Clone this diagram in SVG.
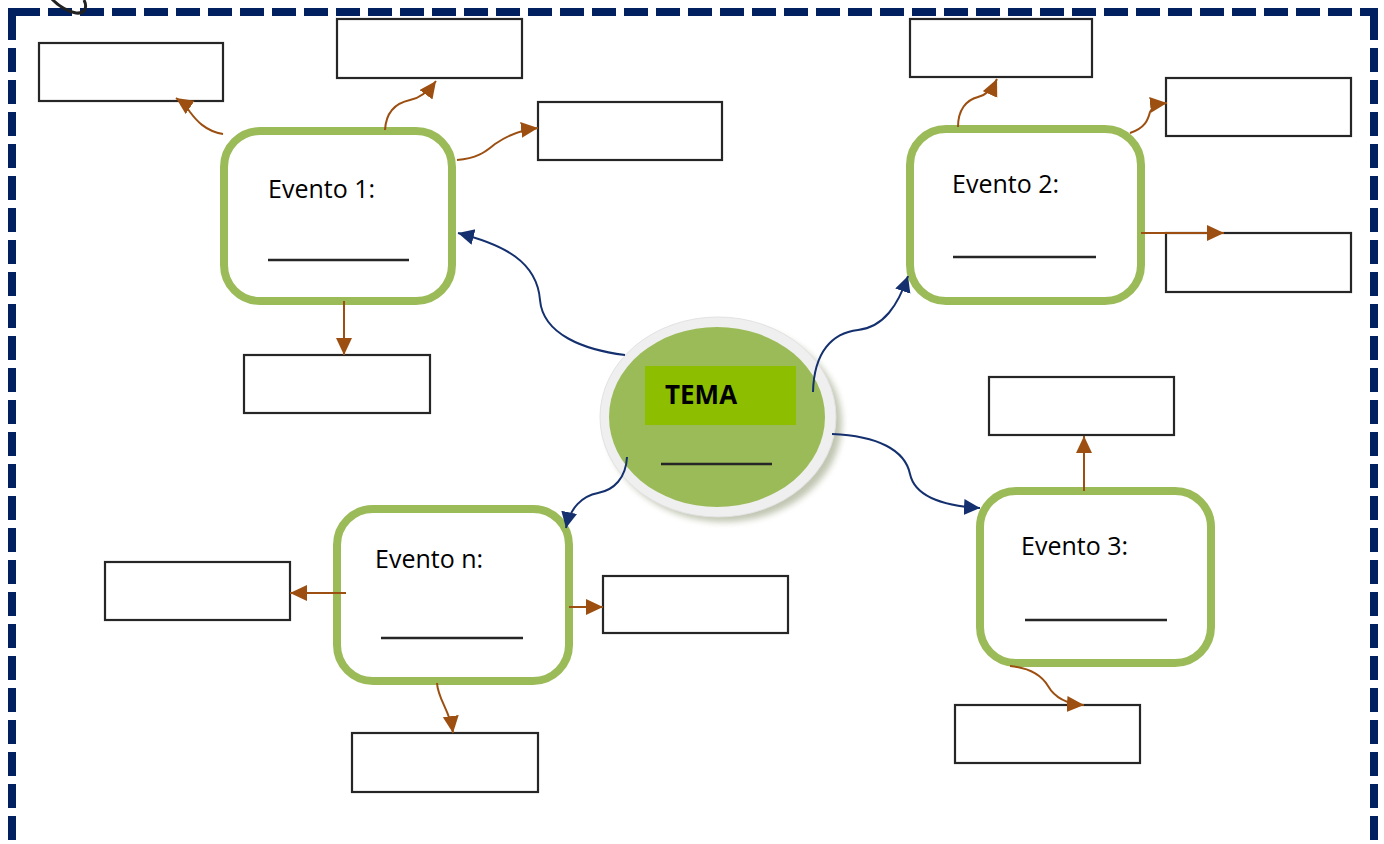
<svg xmlns="http://www.w3.org/2000/svg" width="1384" height="844" viewBox="0 0 1384 844">
  <style>
    .frame { stroke: #002060; stroke-width: 8; fill: none; stroke-dasharray: 24 8; }
    .corner { fill: #002060; }
    .box { fill: #ffffff; stroke: #262626; stroke-width: 2.2; }
    .event { fill: #ffffff; stroke: #9BBB59; stroke-width: 8; }
    .label { font-family: "Open Sans", "Liberation Sans", sans-serif; font-size: 25px; fill: #000000; }
    .blank { stroke: #262626; stroke-width: 2.5; }
    .brown { fill: none; stroke: #9C4F10; stroke-width: 2; marker-end: url(#headBrown); }
    .blue { fill: none; stroke: #14306E; stroke-width: 2; marker-end: url(#headBlue); }
  </style>
  <defs>
    <marker id="headBrown" markerUnits="userSpaceOnUse" markerWidth="20" markerHeight="18" refX="17" refY="8" orient="auto">
      <path d="M0,0 L17,8 L0,16 Z" fill="#9C4F10"/>
    </marker>
    <marker id="headBlue" markerUnits="userSpaceOnUse" markerWidth="20" markerHeight="18" refX="16" refY="8" orient="auto">
      <path d="M0,0 L16,8 L0,16 Z" fill="#14306E"/>
    </marker>
    <filter id="soft" x="-20%" y="-20%" width="140%" height="140%">
      <feGaussianBlur stdDeviation="3"/>
    </filter>
  </defs>

  <rect width="1384" height="844" fill="#ffffff"/>

  <!-- dashed page frame, open at the bottom -->
  <g id="frame">
    <path class="frame" d="M16,12 H1378"/>
    <path class="frame" d="M12,16 V850"/>
    <path class="frame" d="M1374,16 V850"/>
    <rect class="corner" x="8" y="8" width="8" height="8"/>
    <rect class="corner" x="1370" y="8" width="8" height="8"/>
    <path d="M50,-3 C58,6 66,11 76,13 C84,14 88,8 84,0" fill="none" stroke="#222" stroke-width="3"/>
  </g>

  <!-- blank answer boxes -->
  <g id="box1"><rect class="box" x="39" y="43" width="184" height="58"/></g>
  <g id="box2"><rect class="box" x="337" y="19" width="185" height="59"/></g>
  <g id="box3"><rect class="box" x="538" y="102" width="184" height="58"/></g>
  <g id="box4"><rect class="box" x="910" y="19" width="182" height="58"/></g>
  <g id="box5"><rect class="box" x="1166" y="78" width="185" height="58"/></g>
  <g id="box6"><rect class="box" x="1166" y="233" width="185" height="59"/></g>
  <g id="box7"><rect class="box" x="244" y="355" width="186" height="58"/></g>
  <g id="box8"><rect class="box" x="989" y="377" width="185" height="58"/></g>
  <g id="box9"><rect class="box" x="105" y="562" width="185" height="58"/></g>
  <g id="box10"><rect class="box" x="603" y="576" width="185" height="57"/></g>
  <g id="box11"><rect class="box" x="955" y="705" width="185" height="58"/></g>
  <g id="box12"><rect class="box" x="352" y="733" width="186" height="59"/></g>

  <!-- central topic -->
  <g id="tema">
    <ellipse cx="724" cy="423" rx="118" ry="99" fill="#8E9873" opacity="0.55" filter="url(#soft)"/>
    <ellipse cx="718" cy="417" rx="118" ry="100" fill="#EFEFEF" stroke="#E2E2E2" stroke-width="1"/>
    <ellipse cx="717" cy="417" rx="108" ry="90" fill="#9BBB59"/>
    <rect x="645" y="366" width="151" height="59" fill="#8DBF00"/>
    <text x="665" y="404" font-family="'Open Sans', 'Liberation Sans', sans-serif" font-size="26" font-weight="bold" fill="#000">TEMA</text>
    <line class="blank" x1="661" y1="464" x2="772" y2="464" stroke-width="3"/>
  </g>

  <!-- events -->
  <g id="evento1">
    <rect class="event" x="224" y="131" width="228" height="170" rx="36"/>
    <text class="label" x="268" y="198">Evento 1:</text>
    <line class="blank" x1="268" y1="260" x2="409" y2="260"/>
  </g>
  <g id="evento2">
    <rect class="event" x="910" y="129" width="231" height="172" rx="36"/>
    <text class="label" x="952" y="193">Evento 2:</text>
    <line class="blank" x1="953" y1="257" x2="1096" y2="257"/>
  </g>
  <g id="evento3">
    <rect class="event" x="980" y="491" width="231" height="172" rx="36"/>
    <text class="label" x="1021" y="555">Evento 3:</text>
    <line class="blank" x1="1025" y1="620" x2="1167" y2="620"/>
  </g>
  <g id="evento-n">
    <rect class="event" x="337" y="509" width="232" height="172" rx="36"/>
    <text class="label" x="375" y="568">Evento n:</text>
    <line class="blank" x1="381" y1="638" x2="523" y2="638"/>
  </g>

  <!-- connectors -->
  <g id="connectors">
    <path class="blue" d="M625,355 C585,350 543,335 540,300 C537,262 505,245 458,233"/>
    <path class="blue" d="M813,392 C814,352 832,333 858,330 C884,327 898,305 908,276"/>
    <path class="blue" d="M832,434 C878,436 905,450 910,474 C915,497 945,506 980,508"/>
    <path class="blue" d="M627,457 C626,478 614,490 598,493 C582,496 570,508 566,528"/>

    <path class="brown" d="M223,134 C205,131 196,120 190,112 C186,106 182,102 176,98"/>
    <path class="brown" d="M385,130 C386,112 396,103 410,100 C420,98 428,92 436,81"/>
    <path class="brown" d="M457,160 C480,158 487,150 495,144 C505,137 520,130 538,128"/>
    <path class="brown" d="M344,301 L344,355"/>
    <path class="brown" d="M958,127 C958,110 966,100 978,97 C986,95 992,90 997,79"/>
    <path class="brown" d="M1130,133 C1145,128 1148,120 1150,112 C1152,106 1158,104 1167,103"/>
    <path class="brown" d="M1141,233 L1224,233"/>
    <path class="brown" d="M1084,491 L1084,436"/>
    <path class="brown" d="M1010,666 C1030,668 1042,676 1048,686 C1055,698 1066,704 1084,705"/>
    <path class="brown" d="M346,593 L290,593"/>
    <path class="brown" d="M569,607 L603,607"/>
    <path class="brown" d="M437,683 C438,700 450,710 453,733"/>
  </g>
</svg>
